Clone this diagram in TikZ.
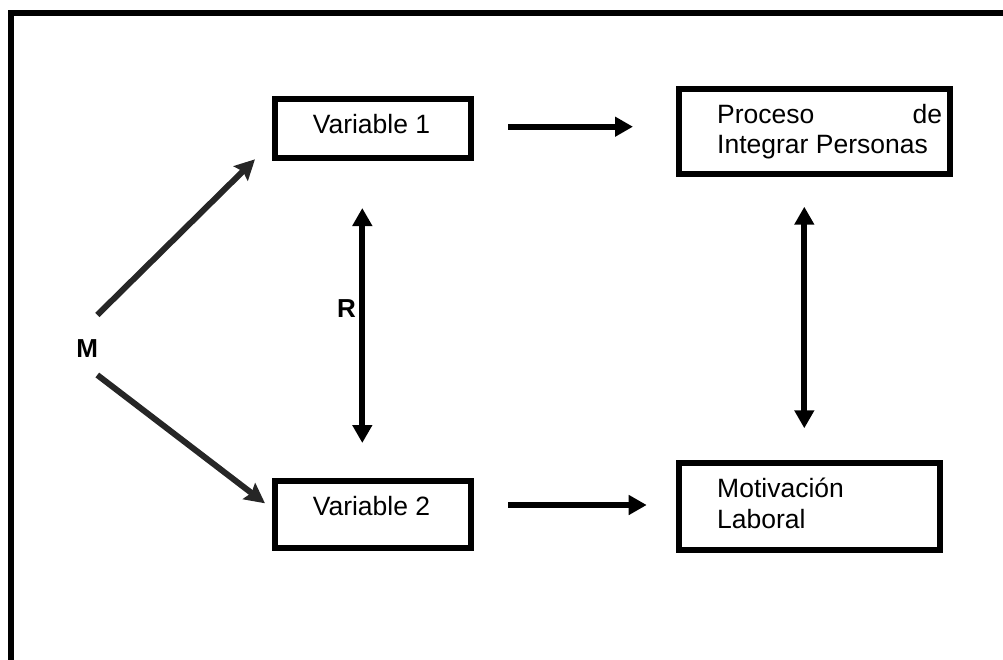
\documentclass[tikz,border=0pt]{standalone}
\usepackage{fontspec}
\setmainfont{Liberation Sans}
\usetikzlibrary{arrows.meta}
\definecolor{arrowgray}{HTML}{262626}
\tikzset{
  box/.style={draw=black, line width=6pt, rectangle, inner sep=0pt, fill=white},
  txt/.style={inner sep=0pt, font=\fontsize{26.5}{31}\selectfont},
  lbl/.style={inner sep=0pt, font=\fontsize{26}{30}\selectfont\bfseries},
  grayarrow/.style={draw=arrowgray, line width=6pt, -{Stealth[length=20pt,width=20pt,inset=3pt]}},
  blackarrow/.style={draw=black, line width=6pt, -{Triangle[length=18pt,width=19pt]}},
  dblarrow/.style={draw=black, line width=6pt, {Triangle[length=18pt,width=19pt]}-{Triangle[length=18pt,width=19pt]}},
  frameline/.style={draw=black, line width=6pt, line join=miter}
}
\begin{document}
\begin{tikzpicture}[x=1pt,y=-1pt]
\useasboundingbox (0,0) rectangle (1003,659);
% frame (top and left sides)
\coordinate (fbl) at (10.5,665);
\coordinate (ftl) at (10.5,13);
\coordinate (ftr) at (1010,13);
\draw[frameline] (fbl) -- (ftl) -- (ftr);

% boxes
\node[box, minimum width=196pt, minimum height=59pt] (v1) at (373,128.5) {};
\node[box, minimum width=196pt, minimum height=67pt] (v2) at (373,514.5) {};
\node[box, minimum width=271pt, minimum height=85pt] (pip) at (814.5,131.5) {};
\node[box, minimum width=261pt, minimum height=87pt] (mot) at (809.5,506.5) {};

% texts
\node[txt, anchor=base] (v1t) at (371.5,133) {Variable 1};
\node[txt, anchor=base] (v2t) at (371.5,515) {Variable 2};
\node[txt, anchor=base west] (pipa) at (717,123) {\hbox to 225pt{Proceso\hfill de}};
\node[txt, anchor=base west] (pipb) at (717,153) {Integrar Personas};
\node[txt, anchor=base west] (mota) at (717,497) {Motivación};
\node[txt, anchor=base west] (motb) at (717,528) {Laboral};
\node[lbl, anchor=base] (M) at (87.3,357) {M};
\node[lbl, anchor=base] (R) at (346.5,317) {R};

% connector end points
\coordinate (ma1) at (97.3,315);
\coordinate (mb1) at (255,159.3);
\coordinate (ma2) at (97.3,375);
\coordinate (mb2) at (265,503.3);
\coordinate (ra) at (362.3,208);
\coordinate (rb) at (362.3,443);
\coordinate (ha1) at (508,126.7);
\coordinate (hb1) at (633,126.7);
\coordinate (ha2) at (508,505);
\coordinate (hb2) at (646.7,505);
\coordinate (va) at (804.3,206.7);
\coordinate (vb) at (804.3,428.3);

% connectors
\draw[grayarrow] (ma1) -- (mb1);
\draw[grayarrow] (ma2) -- (mb2);
\draw[dblarrow] (ra) -- (rb);
\draw[blackarrow] (ha1) -- (hb1);
\draw[blackarrow] (ha2) -- (hb2);
\draw[dblarrow] (va) -- (vb);
\end{tikzpicture}
\end{document}
